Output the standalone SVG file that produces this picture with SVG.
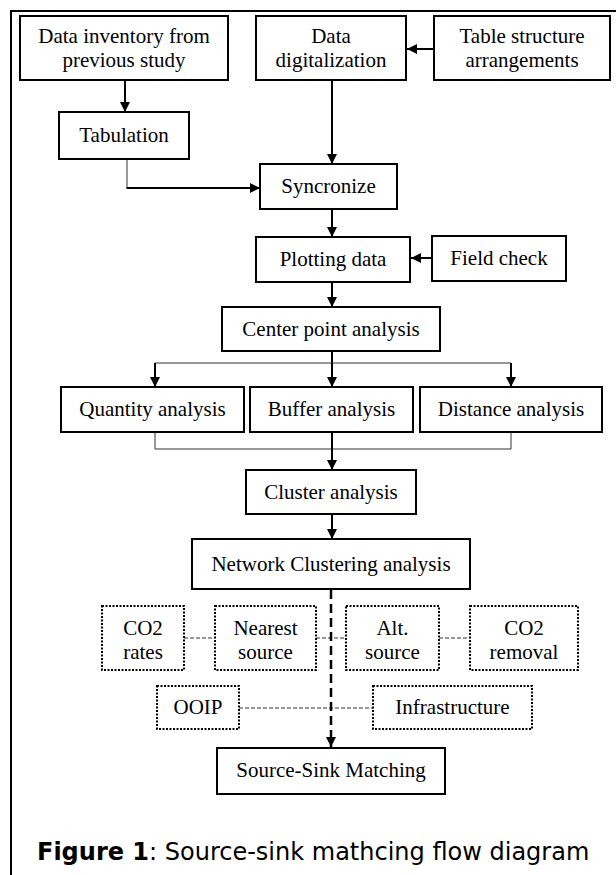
<svg xmlns="http://www.w3.org/2000/svg" width="616" height="875" viewBox="0 0 616 875">
<defs>
<style>
.box{fill:#fff;stroke:#000;stroke-width:2}
.dbox{fill:#fff;stroke:#000;stroke-width:2;stroke-dasharray:2 1.5}
.t{font-family:"Liberation Serif","Times New Roman",serif;font-size:21px;fill:#000;text-anchor:middle}
.arr{fill:none;stroke:#000;stroke-width:2;marker-end:url(#ah)}
.thin{fill:none;stroke:#333;stroke-width:1}
.line{fill:none;stroke:#000;stroke-width:2}
.dash{fill:none;stroke:#333;stroke-width:1;stroke-dasharray:4 2}
.bigdash{fill:none;stroke:#000;stroke-width:2.5;stroke-dasharray:9 5;marker-end:url(#ah)}
.cap{font-family:"DejaVu Sans",Verdana,sans-serif;font-size:24px;fill:#000}
</style>
<marker id="ah" viewBox="0 0 10 10" refX="10" refY="5" markerWidth="11" markerHeight="10" markerUnits="userSpaceOnUse" orient="auto">
<path d="M0,0 L10,5 L0,10 z" fill="#000"/>
</marker>
</defs>
<rect width="616" height="875" fill="#fff"/>
<g id="frame">
<path d="M11,875 V11 H616" fill="none" stroke="#000" stroke-width="2"/>
</g>
<g id="connectors">
<path class="arr" d="M434,49 H407"/>
<path class="arr" d="M125,80 V112"/>
<path class="thin" d="M127,159 V188"/>
<path class="arr" d="M126.5,188 H260"/>
<path class="arr" d="M332,80 V164"/>
<path class="arr" d="M332,209 V237"/>
<path class="arr" d="M432,258 H411"/>
<path class="arr" d="M332,282 V307"/>
<path class="line" d="M332,351 V363"/>
<path class="thin" d="M155,363 H511"/>
<path class="arr" d="M155,363 V387"/>
<path class="arr" d="M332,363 V387"/>
<path class="arr" d="M511,363 V387"/>
<path class="thin" d="M155,432 V449 H511 V432"/>
<path class="arr" d="M332,432 V470"/>
<path class="arr" d="M332,514 V539"/>
<path class="dash" d="M184,638 H215"/>
<path class="dash" d="M316,638 H346"/>
<path class="dash" d="M439,638 H470"/>
<path class="dash" d="M239,708 H373"/>
<path class="bigdash" d="M331,590 V747"/>
</g>
<g id="n1"><rect class="box" x="20" y="16" width="208" height="64"/><text class="t" x="124" y="43">Data inventory from</text><text class="t" x="124" y="67">previous study</text></g>
<g id="n2"><rect class="box" x="256" y="16" width="150" height="64"/><text class="t" x="331" y="43">Data</text><text class="t" x="331" y="67">digitalization</text></g>
<g id="n3"><rect class="box" x="434" y="16" width="176" height="64"/><text class="t" x="522" y="43">Table structure</text><text class="t" x="522" y="67">arrangements</text></g>
<g id="n4"><rect class="box" x="59" y="112" width="130" height="47"/><text class="t" x="124" y="142">Tabulation</text></g>
<g id="n5"><rect class="box" x="260" y="164" width="137" height="45"/><text class="t" x="328.5" y="193">Syncronize</text></g>
<g id="n6"><rect class="box" x="256" y="237" width="154" height="45"/><text class="t" x="333" y="266">Plotting data</text></g>
<g id="n7"><rect class="box" x="432" y="236" width="134" height="45"/><text class="t" x="499" y="265">Field check</text></g>
<g id="n8"><rect class="box" x="222" y="307" width="218" height="44"/><text class="t" x="331" y="336">Center point analysis</text></g>
<g id="n9"><rect class="box" x="61" y="387" width="183" height="45"/><text class="t" x="152.5" y="416">Quantity analysis</text></g>
<g id="n10"><rect class="box" x="250" y="387" width="163" height="45"/><text class="t" x="331.5" y="416">Buffer analysis</text></g>
<g id="n11"><rect class="box" x="420" y="387" width="182" height="45"/><text class="t" x="511" y="416">Distance analysis</text></g>
<g id="n12"><rect class="box" x="246" y="470" width="170" height="44"/><text class="t" x="331" y="499">Cluster analysis</text></g>
<g id="n13"><rect class="box" x="192" y="539" width="278" height="50"/><text class="t" x="331" y="571">Network Clustering analysis</text></g>
<g id="n14"><rect class="dbox" x="102" y="606" width="82" height="64"/><text class="t" x="143" y="635">CO2</text><text class="t" x="143" y="659">rates</text></g>
<g id="n15"><rect class="dbox" x="215" y="606" width="101" height="64"/><text class="t" x="265.5" y="635">Nearest</text><text class="t" x="265.5" y="659">source</text></g>
<g id="n16"><rect class="dbox" x="346" y="606" width="93" height="64"/><text class="t" x="392.5" y="635">Alt.</text><text class="t" x="392.5" y="659">source</text></g>
<g id="n17"><rect class="dbox" x="470" y="606" width="108" height="64"/><text class="t" x="524" y="635">CO2</text><text class="t" x="524" y="659">removal</text></g>
<g id="n18"><rect class="dbox" x="157" y="686" width="82" height="43"/><text class="t" x="198" y="714">OOIP</text></g>
<g id="n19"><rect class="dbox" x="373" y="686" width="159" height="43"/><text class="t" x="452.5" y="714">Infrastructure</text></g>
<g id="n20"><rect class="box" x="217" y="748" width="228" height="46"/><text class="t" x="331" y="777">Source-Sink Matching</text></g>
<g id="caption"><text class="cap" x="37" y="860"><tspan font-weight="bold">Figure 1</tspan>: Source-sink mathcing flow diagram</text></g>
</svg>
